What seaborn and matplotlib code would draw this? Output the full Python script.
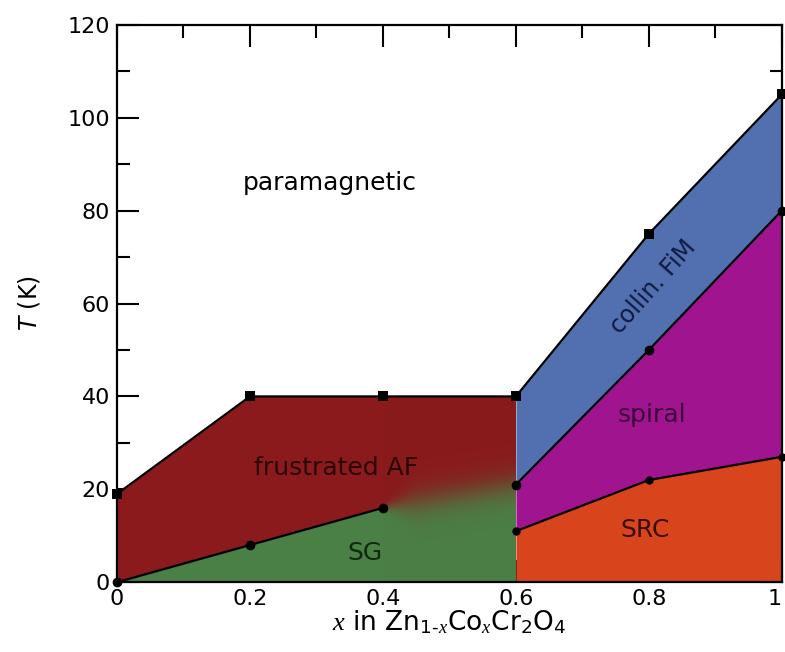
import numpy as np
import pandas as pd
import matplotlib
matplotlib.use("Agg")
import matplotlib.pyplot as plt
import seaborn as sns
from matplotlib.colors import to_rgb
from matplotlib.ticker import MultipleLocator

# ---------------- data ----------------
x_para = [0.0, 0.2, 0.4, 0.6, 0.8, 1.0]
T_para = [19, 40, 40, 40, 75, 105]
x_sg = [0.0, 0.2, 0.4]
T_sg = [0, 8, 16]
x_fim = [0.6, 0.8, 1.0]
T_fim = [21, 50, 80]
x_src = [0.6, 0.8, 1.0]
T_src = [11, 22, 27]
phase_labels = ["paramagnetic", "frustrated AF", "SG", "collin. FiM", "spiral", "SRC"]
x_ticks = [0, 0.2, 0.4, 0.6, 0.8, 1.0]
x_ticklabels = ["0", "0.2", "0.4", "0.6", "0.8", "1"]

c_af = "#8A1A1C"
c_sg = "#4A7F45"
c_fim = "#5270B0"
c_spiral = "#A01490"
c_src = "#D8441C"

sns.set_theme(style="ticks")
plt.rcParams["font.family"] = ["DejaVu Sans"]
plt.rcParams["text.color"] = "black"
plt.rcParams["axes.labelcolor"] = "black"
plt.rcParams["xtick.color"] = "black"
plt.rcParams["ytick.color"] = "black"
plt.rcParams["mathtext.fontset"] = "custom"
plt.rcParams["mathtext.rm"] = "DejaVu Sans"
plt.rcParams["mathtext.it"] = "Liberation Serif:italic"
plt.rcParams["mathtext.sf"] = "DejaVu Sans:italic"

fig = plt.figure(figsize=(7.85, 6.52), dpi=100)
ax = fig.add_axes([0.149, 0.107, 0.847, 0.855])

# ---------------- filled regions ----------------
xp = np.array(x_para)
Tp = np.array(T_para)
ax.fill_between(x_sg, T_sg, np.interp(x_sg, xp, Tp), color=c_af, lw=0, zorder=1)
ax.fill_between(x_sg, 0, T_sg, color=c_sg, lw=0, zorder=1)
# blended AF / SG boundary between x = 0.4 and 0.6
xs = np.linspace(0.4, 0.6, 300)
ys = np.linspace(0, 40, 400)
X, Y = np.meshgrid(xs, ys)
b = np.interp(X, [0.4, 0.6], [T_sg[-1], T_fim[0]])
w = 0.3 + 1.6 * np.clip((X - 0.4) / 0.05, 0, 1)
s = 1.0 / (1.0 + np.exp(-(Y - b) / w))
ra, rg = np.array(to_rgb(c_af)), np.array(to_rgb(c_sg))
img = s[..., None] * ra + (1 - s[..., None]) * rg
ax.imshow(img, origin="lower", extent=[0.4, 0.6, 0, 40], aspect="auto",
          interpolation="bilinear", zorder=1)
ax.fill_between(x_src, 0, T_src, color=c_src, lw=0, zorder=1)
ax.fill_between(x_src, T_src, T_fim, color=c_spiral, lw=0, zorder=1)
ax.fill_between(x_fim, T_fim, np.interp(x_fim, xp, Tp), color=c_fim, lw=0, zorder=1)

# ---------------- boundaries ----------------
df_para = pd.DataFrame({"x": x_para, "T": T_para})
df_sg = pd.DataFrame({"x": x_sg, "T": T_sg})
df_fim = pd.DataFrame({"x": x_fim, "T": T_fim})
df_src = pd.DataFrame({"x": x_src, "T": T_src})
sns.lineplot(data=df_para, x="x", y="T", ax=ax, color="black", lw=1.6,
             marker="s", markersize=7, markeredgewidth=0, zorder=3, clip_on=False)
sns.lineplot(data=df_sg, x="x", y="T", ax=ax, color="black", lw=1.6,
             marker="o", markersize=7, markeredgewidth=0, zorder=3, clip_on=False)
sns.lineplot(data=df_fim, x="x", y="T", ax=ax, color="black", lw=1.6,
             marker="o", markersize=7, markeredgewidth=0, zorder=3, clip_on=False)
sns.lineplot(data=df_src, x="x", y="T", ax=ax, color="black", lw=1.6,
             marker="o", markersize=6, markeredgewidth=0, zorder=3, clip_on=False)

# ---------------- labels ----------------
fs = 18
ax.text(0.32, 86, phase_labels[0], fontsize=fs, ha="center", va="center", color="black", zorder=4)
ax.text(0.33, 24.5, phase_labels[1], fontsize=fs, ha="center", va="center", color="#2a0606", zorder=4)
ax.text(0.373, 6.2, phase_labels[2], fontsize=fs, ha="center", va="center", color="#0f2a10", zorder=4)
ax.text(0.806, 63.6, phase_labels[3], fontsize=fs - 1, ha="center", va="center", color="#101a40",
        rotation=48.5, rotation_mode="anchor", zorder=4)
ax.text(0.805, 36, phase_labels[4], fontsize=fs, ha="center", va="center", color="#3a0535", zorder=4)
ax.text(0.794, 11.2, phase_labels[5], fontsize=fs, ha="center", va="center", color="#3a0e05", zorder=4)

# ---------------- axes ----------------
ax.set_xlim(0, 1)
ax.set_ylim(0, 120)
ax.set_xticks(x_ticks, x_ticklabels)
ax.xaxis.set_minor_locator(MultipleLocator(0.1))
ax.yaxis.set_major_locator(MultipleLocator(20))
ax.yaxis.set_minor_locator(MultipleLocator(10))
ax.tick_params(which="both", direction="in", top=True, right=True, width=1.5, colors="black",
               labelsize=16)
ax.tick_params(which="major", length=16, pad=5)
ax.tick_params(which="minor", length=9)
ax.get_xticklabels()[-1].set_horizontalalignment("right")
for sp in ax.spines.values():
    sp.set_linewidth(1.6)
    sp.set_color("black")
    sp.set_zorder(5)
ax.set_xlabel(r"$x$ in Zn$_{1\text{-}x}$Co$_x$Cr$_2$O$_4$", fontsize=19, labelpad=0)
ax.set_ylabel(r"$\mathsf{T}$ (K)", fontsize=17, labelpad=18)

fig.savefig("out.png", dpi=100)
